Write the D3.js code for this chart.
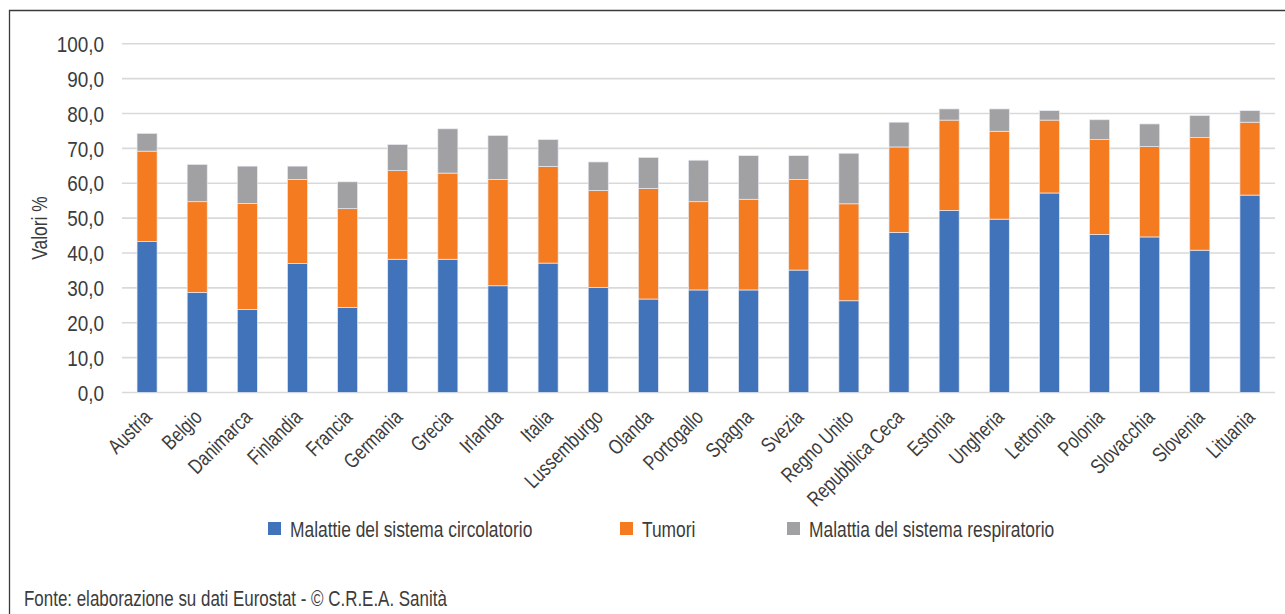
<!DOCTYPE html>
<html>
<head>
<meta charset="utf-8">
<script src="https://cdn.jsdelivr.net/npm/d3@7"></script>
<style>
  html, body { margin: 0; padding: 0; background: #fff; }
  svg { display: block; }
  text { font-family: "Liberation Sans", Arial, sans-serif; fill: #3c3c3c; }
</style>
</head>
<body>
<svg id="chart" width="1285" height="614"></svg>
<script>
const categories = ["Austria", "Belgio", "Danimarca", "Finlandia", "Francia", "Germania", "Grecia", "Irlanda", "Italia", "Lussemburgo", "Olanda", "Portogallo", "Spagna", "Svezia", "Regno Unito", "Repubblica Ceca", "Estonia", "Ungheria", "Lettonia", "Polonia", "Slovacchia", "Slovenia", "Lituania"];
const circolatorio = [43.3, 28.7, 23.8, 37.0, 24.4, 38.2, 38.2, 30.6, 37.1, 30.1, 26.8, 29.4, 29.4, 35.1, 26.3, 45.9, 52.2, 49.7, 57.2, 45.3, 44.6, 40.8, 56.6];
const tumori = [25.9, 26.0, 30.4, 24.1, 28.3, 25.4, 24.7, 30.5, 27.7, 27.8, 31.7, 25.3, 26.0, 26.0, 27.8, 24.5, 25.9, 25.2, 20.9, 27.2, 25.9, 32.3, 20.9];
const respiratorio = [5.1, 10.7, 10.7, 3.8, 7.7, 7.5, 12.7, 12.6, 7.7, 8.2, 8.9, 11.9, 12.5, 6.8, 14.5, 7.1, 3.2, 6.4, 2.7, 5.7, 6.5, 6.3, 3.3];
const seriesNames = ["Malattie del sistema circolatorio", "Tumori", "Malattia del sistema respiratorio"];
const seriesColors = ["#4173ba", "#f47b20", "#a1a1a4"];
const yTicks = [0, 10, 20, 30, 40, 50, 60, 70, 80, 90, 100];
const yTickLabels = ["0,0", "10,0", "20,0", "30,0", "40,0", "50,0", "60,0", "70,0", "80,0", "90,0", "100,0"];
const yTitle = "Valori %";
const source = "Fonte: elaborazione su dati Eurostat - © C.R.E.A. Sanità";

const svg = d3.select("#chart");
const keys = ["circ", "tum", "resp"];
const rows = categories.map((c, i) => ({ cat: c, circ: circolatorio[i], tum: tumori[i], resp: respiratorio[i] }));
const NARROW = "scale(0.79,1)";

const x = d3.scaleBand().domain(categories).range([122, 1275]).paddingInner(0.6).paddingOuter(0.3);
const y = d3.scaleLinear().domain([0, 100]).range([392.5, 43.7]);

// frame
svg.append("path")
  .attr("d", "M9.5,614 L9.5,10.5 L1285,10.5")
  .attr("fill", "none").attr("stroke", "#3a3a3a").attr("stroke-width", 1.3);

// gridlines
svg.append("g").selectAll("line").data(yTicks).join("line")
  .attr("x1", 122).attr("x2", 1275)
  .attr("y1", d => y(d)).attr("y2", d => y(d))
  .attr("stroke", "#d9d9d9").attr("stroke-width", 1.6);

// y axis labels
const yAxis = d3.axisLeft(y).tickValues(yTicks).tickFormat((d, i) => yTickLabels[i]).tickSize(0).tickPadding(0);
const gy = svg.append("g").attr("transform", "translate(104,0)").call(yAxis);
gy.select(".domain").remove();
gy.selectAll("text")
  .attr("font-size", "22px")
  .style("font-family", "'Liberation Sans', Arial, sans-serif")
  .attr("fill", "#3c3c3c")
  .attr("x", 0)
  .attr("dy", "0.35em")
  .attr("transform", "scale(0.86,1)");

// y title
svg.append("text")
  .attr("transform", "translate(47,228) rotate(-90) " + NARROW)
  .attr("text-anchor", "middle")
  .attr("font-size", "22px")
  .text(yTitle);

// bars
const stacked = d3.stack().keys(keys)(rows);
svg.append("g").selectAll("g").data(stacked).join("g")
  .attr("fill", (d, i) => seriesColors[i])
  .selectAll("rect").data(d => d).join("rect")
  .attr("x", d => x(d.data.cat))
  .attr("width", x.bandwidth())
  .attr("y", d => y(d[1]))
  .attr("height", d => y(d[0]) - y(d[1]))
  .attr("stroke", "#e8ecf4").attr("stroke-width", 0.7);

// x axis labels
const xAxis = d3.axisBottom(x).tickSize(0).tickPadding(0);
const gx = svg.append("g").attr("transform", "translate(0,392.5)").call(xAxis);
gx.select(".domain").remove();
gx.selectAll("text")
  .attr("font-size", "21px")
  .style("font-family", "'Liberation Sans', Arial, sans-serif")
  .attr("fill", "#3c3c3c")
  .attr("text-anchor", "end")
  .attr("dy", null)
  .attr("y", 0)
  .attr("transform", "translate(6,26) rotate(-45) " + NARROW);

// legend
const legendX = [268, 620, 787];
const lg = svg.append("g").selectAll("g").data(seriesNames).join("g")
  .attr("transform", (d, i) => `translate(${legendX[i]},529)`);
lg.append("rect").attr("x", 0).attr("y", -7).attr("width", 13).attr("height", 13)
  .attr("fill", (d, i) => seriesColors[i]);
lg.append("text")
  .attr("transform", `translate(22,0) ${NARROW}`)
  .attr("dy", "0.35em")
  .attr("font-size", "22px").text(d => d);

// source
svg.append("text")
  .attr("transform", `translate(24,598) scale(0.77,1)`)
  .attr("dy", "0.35em")
  .attr("font-size", "22px").text(source);
</script>
</body>
</html>
